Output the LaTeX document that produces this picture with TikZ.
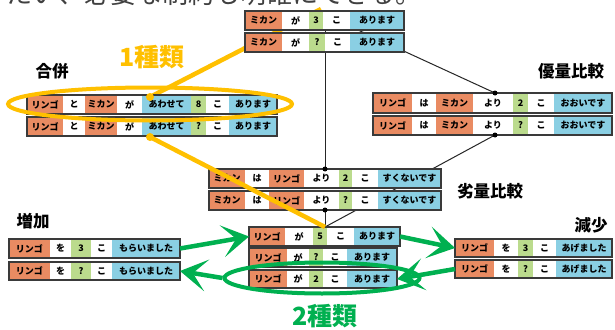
\documentclass[tikz,border=0pt]{standalone}
\usepackage{fontspec}
\newfontfamily\jp{Noto Sans CJK JP}
\usetikzlibrary{arrows.meta,shapes.geometric}
\definecolor{orc}{HTML}{E98B62}
\definecolor{grc}{HTML}{BBDB8D}
\definecolor{blc}{HTML}{8ACFE3}
\definecolor{framec}{HTML}{3A3A3A}
\definecolor{ylw}{HTML}{FFC000}
\definecolor{grn}{HTML}{00B050}
\pgfdeclarelayer{back}
\pgfdeclarelayer{front}
\pgfsetlayers{back,main,front}
\tikzset{
 cellbox/.style={inner sep=0pt, outer sep=0pt, draw=none, font=\jp\bfseries\fontsize{9}{10}\selectfont},
 rowframe/.style={draw=framec, line width=1.3pt, inner sep=0pt, outer sep=0pt},
 title/.style={font=\jp\bfseries\fontsize{16.5}{18}\selectfont, inner sep=0pt},
 dotn/.style={circle, fill=black, inner sep=0pt, minimum size=5pt},
 ball/.style={circle, fill=ylw, inner sep=0pt, minimum size=8pt},
 conn/.style={line width=1pt, black!85},
 yl/.style={line width=4.5pt, ylw},
 garrow/.style={line width=4.5pt, grn, -{Stealth[length=27pt,width=32pt,inset=14pt]}},
}
\newcommand\jrow[6]{%
 \foreach \xb/\cellcol/\txt [remember=\xb as \xprev (initially #2), count=\ci] in {#6}{
  \node[cellbox, fill=\cellcol, minimum width={(\xb-\xprev)*1pt}, minimum height={(#5-#4)*1pt}] (#1-\ci) at ({(\xprev+\xb)/2},{(#4+#5)/2}) {\txt};
 }
 \node[rowframe, minimum width={(#3-#2)*1pt}, minimum height={(#5-#4)*1pt}] (#1) at ({(#2+#3)/2},{(#4+#5)/2}) {};
}
\begin{document}
\begin{tikzpicture}[x=1pt,y=-1pt]
\useasboundingbox (0,0) rectangle (615,329);
\node[anchor=base west, font=\jp\fontsize{26}{28}\selectfont, text=black!75, inner sep=0pt] (toptext) at (6,4) {たい、必要な制約も明確にできる。};

% rows
\jrow{r1}{245}{404}{11}{30}{282/orc/ミカン,309/white/が,323/grc/3,350/white/こ,404/blc/あります}
\jrow{r2}{245}{404}{33}{52}{282/orc/ミカン,309/white/が,325/grc/?,350/white/こ,404/blc/あります}
\jrow{m1}{27}{277}{95}{114}{63/orc/リンゴ,85/white/と,117/orc/ミカン,142/white/が,191/blc/あわせて,206/grc/8,229/white/こ,277/blc/あります}
\jrow{m2}{27}{277}{117}{136}{63/orc/リンゴ,85/white/と,117/orc/ミカン,142/white/が,191/blc/あわせて,206/grc/?,229/white/こ,277/blc/あります}
\jrow{u1}{373}{612}{93}{113}{412/orc/リンゴ,436/white/は,473/orc/ミカン,513/white/より,528/grc/2,554/white/こ,612/blc/おおいです}
\jrow{u2}{373}{612}{116}{135}{412/orc/リンゴ,436/white/は,473/orc/ミカン,513/white/より,528/grc/?,554/white/こ,612/blc/おおいです}
\jrow{l1}{209}{441}{169}{188}{245/orc/ミカン,269/white/は,304/orc/リンゴ,339/white/より,352/grc/2,378/white/こ,441/blc/すくないです}
\jrow{l2}{209}{441}{191}{210}{245/orc/ミカン,269/white/は,304/orc/リンゴ,339/white/より,352/grc/?,378/white/こ,441/blc/すくないです}
\jrow{g1}{249}{400}{227}{246}{285/orc/リンゴ,313/white/が,327/grc/5,354/white/こ,400/blc/あります}
\jrow{g2}{249}{397}{248}{267}{287/orc/リンゴ,309/white/が,323/grc/?,347/white/こ,397/blc/あります}
\jrow{g3}{249}{397}{270}{288}{287/orc/リンゴ,309/white/が,323/grc/2,347/white/こ,397/blc/あります}
\jrow{z1}{9}{180}{239}{258}{50/orc/リンゴ,71/white/を,91/grc/3,112/white/こ,180/blc/もらいました}
\jrow{z2}{9}{180}{262}{280}{50/orc/リンゴ,71/white/を,91/grc/?,112/white/こ,180/blc/もらいました}
\jrow{d1}{455}{612}{239}{257}{494/orc/リンゴ,518/white/を,533/grc/3,556/white/こ,612/blc/あげました}
\jrow{d2}{455}{612}{260}{278}{494/orc/リンゴ,518/white/を,533/grc/?,556/white/こ,612/blc/あげました}

\begin{pgfonlayer}{front}
 % titles
 \node[title] (tGappei) at (52,71) {合併};
 \node[title] (tYuryo) at (571,71) {優量比較};
 \node[title] (tRetsu) at (490,191) {劣量比較};
 \node[title] (tZouka) at (33,221) {増加};
 \node[title] (tGensho) at (591,225) {減少};
 \node[font=\jp\bfseries\fontsize{25}{27}\selectfont, text=ylw, inner sep=0pt] (t1) at (152,57) {1種類};
 \node[font=\jp\bfseries\fontsize{25}{27}\selectfont, text=grn, inner sep=0pt] (t2) at (325,316) {2種類};
 % dots
 \node[dotn] (dU1) at (495,93) {};
 \node[dotn] (dU2) at (495,135) {};
 \node[dotn] (dL1) at (325,169) {};
 \node[dotn] (dL2) at (325,210) {};
 % yellow
 \node[draw=ylw, line width=4pt, ellipse, minimum width=284pt, minimum height=33pt, inner sep=0pt] (yell) at (150,104) {};
 \node[ball] (b1) at (150,97) {};
 \node[ball] (b2) at (150,137) {};
 \coordinate (cY2) at (325,227);
 \draw[yl] (b2.center) -- (cY2);
 % green
 \node[draw=grn, line width=4pt, ellipse, minimum width=195pt, minimum height=31pt, inner sep=0pt] (gell) at (322,278) {};
 \draw[garrow] (z1.east) -- (g1.west);
 \draw[garrow] (g1.east) -- (d1.west);
 \draw[garrow] (d2.west) -- (g3.east);
 \draw[garrow] (gell.west) -- (z2.east);
\end{pgfonlayer}

\begin{pgfonlayer}{back}
 \fill[white] (0,0) rectangle (615,329);
 \coordinate (cA) at (358,30);
 \coordinate (cV) at (325,30);
 \coordinate (cG) at (325,227);
 \coordinate (cY1) at (321,9);
 \draw[conn] (cV) -- (dL1.center);
 \draw[conn] (dL2.center) -- (cG);
 \draw[conn] (dU2.center) -- (cG);
 \draw[conn] (cA) -- (dU1.center);
 \draw[yl] (b1.center) -- (cY1);
\end{pgfonlayer}
\end{tikzpicture}
\end{document}
